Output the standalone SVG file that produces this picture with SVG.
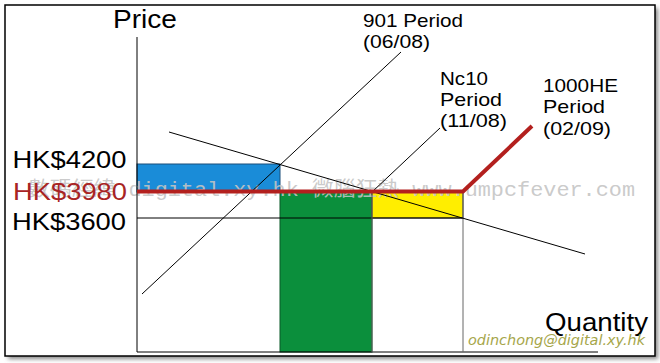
<svg xmlns="http://www.w3.org/2000/svg" width="660" height="363" viewBox="0 0 660 363">
<defs>
<filter id="sh" x="-5%" y="-5%" width="110%" height="110%"><feGaussianBlur stdDeviation="2"/></filter>
</defs>
<style>
.lbl{font-family:"Liberation Sans",Arial,sans-serif;fill:#000}
.big{font-size:24px}
.per{font-size:19px}
.thin{stroke:#000;stroke-width:1;fill:none}
.gray{stroke:#666;stroke-width:1;fill:none}
.wm{font-family:"Liberation Mono","Noto Sans CJK TC",monospace;font-size:20px;fill:#c4c4c4;fill-opacity:0.9}
</style>
<rect width="660" height="363" fill="#fff"/>
<g id="frame">
<rect x="8" y="8" width="650" height="351" fill="#888" filter="url(#sh)"/>
<rect x="5" y="5" width="650" height="351" fill="#fff" stroke="#000" stroke-width="1.5"/>
</g>
<g id="areas">
<rect id="blue" x="137" y="164" width="143" height="28" fill="#1a8cd8" stroke="#1a4f7a" stroke-width="1"/>
<rect id="green" x="280" y="192" width="92" height="160" fill="#0b8f3c" stroke="#0a5a28" stroke-width="1"/>
<rect id="yellow" x="372" y="192" width="91" height="26" fill="#ffee00" stroke="#333" stroke-width="1"/>
</g>
<text class="wm" x="28" y="196" textLength="607" lengthAdjust="spacingAndGlyphs">數碼經緯 digital.xy.hk 微腦狂熱 www.umpcfever.com</text>
<g id="connectors">
<line class="thin" x1="137" y1="37" x2="137" y2="352"/>
<line class="thin" x1="137" y1="352" x2="598" y2="352"/>
<line class="thin" x1="137" y1="218" x2="463" y2="218"/>
<line class="gray" x1="372" y1="192" x2="372" y2="352"/>
<line class="gray" x1="463" y1="192" x2="463" y2="352"/>
<line class="thin" x1="142" y1="294" x2="401" y2="52"/>
<line class="thin" x1="372" y1="192" x2="440" y2="128"/>
<line class="thin" x1="169" y1="132" x2="585" y2="254"/>
<polyline points="137,191.5 463,191.5 532,126" fill="none" stroke="#b3201e" stroke-width="4"/>
</g>
<g id="labels">
<text class="lbl" x="113" y="28" font-size="25" textLength="64" lengthAdjust="spacingAndGlyphs">Price</text>
<text class="lbl big" x="12.5" y="168" textLength="114" lengthAdjust="spacingAndGlyphs">HK$4200</text>
<text class="lbl big" x="13" y="200" textLength="114" lengthAdjust="spacingAndGlyphs" style="fill:#a82424">HK$3980</text>
<text class="lbl big" x="12" y="230" textLength="114" lengthAdjust="spacingAndGlyphs">HK$3600</text>
<text class="lbl per" x="363" y="27" textLength="100" lengthAdjust="spacingAndGlyphs">901 Period</text>
<text class="lbl per" x="363" y="48" textLength="67" lengthAdjust="spacingAndGlyphs">(06/08)</text>
<text class="lbl per" x="440" y="85" textLength="48" lengthAdjust="spacingAndGlyphs">Nc10</text>
<text class="lbl per" x="440" y="106" textLength="62" lengthAdjust="spacingAndGlyphs">Period</text>
<text class="lbl per" x="440" y="127" textLength="67" lengthAdjust="spacingAndGlyphs">(11/08)</text>
<text class="lbl per" x="543" y="92" textLength="75" lengthAdjust="spacingAndGlyphs">1000HE</text>
<text class="lbl per" x="543" y="113" textLength="62" lengthAdjust="spacingAndGlyphs">Period</text>
<text class="lbl per" x="543" y="135" textLength="68" lengthAdjust="spacingAndGlyphs">(02/09)</text>
<text class="lbl" x="545" y="331" font-size="25" textLength="103" lengthAdjust="spacingAndGlyphs">Quantity</text>
<text x="468" y="345" font-family="'DejaVu Sans',Verdana,sans-serif" font-style="italic" font-size="14" fill="#a6a64a" textLength="177" lengthAdjust="spacingAndGlyphs">odinchong@digital.xy.hk</text>
</g>
</svg>
